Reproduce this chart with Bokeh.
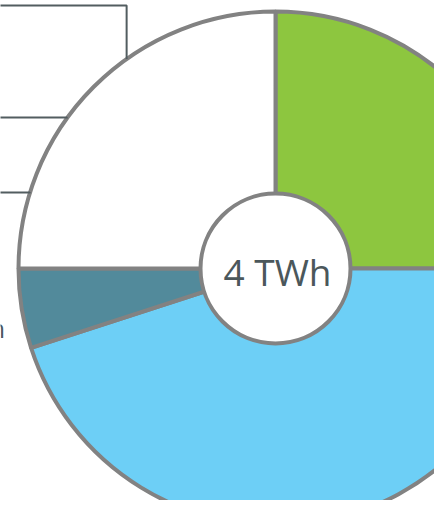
import math
from bokeh.plotting import figure
from bokeh.models import Range1d, ColumnDataSource
from bokeh.core.properties import value
from bokeh.embed import file_html
from bokeh.resources import INLINE

# ---- data ----
categories = ["Green", "Light blue", "Teal", "White"]
values_twh = [1.0, 1.8, 0.2, 1.0]
colors = ["#8dc63f", "#6dcff6", "#528a9b", "#ffffff"]
total_label = "4 TWh"
side_label = "0.2 TWh"

# leader lines of labels lying outside the visible crop (angle on rim, label row)
leader_angles = [125.4, 144.3, 163.0]
leader_rows = [495, 383, 308]  # data y of the horizontal runs

# ---- layout (1 data unit = 1 px) ----
W, H = 434, 500
cx, cy = 275, 232
R_out, R_in = 257, 75

p = figure(width=W, height=H, output_backend="svg", toolbar_location=None,
           x_range=Range1d(0, W), y_range=Range1d(0, H),
           min_border=0, outline_line_color=None)
p.axis.visible = False
p.grid.visible = False
p.background_fill_color = "white"
p.border_fill_color = "white"

total = sum(values_twh)
starts, ends = [], []
a = math.pi / 2
for v in values_twh:
    span = 2 * math.pi * v / total
    starts.append(a - span)
    ends.append(a)
    a -= span

src = ColumnDataSource(dict(cat=categories, val=values_twh, color=colors,
                            start=starts, end=ends))
p.wedge(x=cx, y=cy, radius=R_out, start_angle="start", end_angle="end",
        fill_color="color", line_color="#828282", line_width=4, source=src)

# leader lines
for ang, row in zip(leader_angles, leader_rows):
    t = math.radians(ang)
    ex, ey = cx + R_out * math.cos(t), cy + R_out * math.sin(t)
    p.line(x=[-20, ex, ex], y=[row, row, ey], line_color="#525d60", line_width=2)

# partially visible label of the teal slice (cut off by the crop, as in the reference)
p.text(x=[4.5], y=[173], text=[side_label], text_align="right",
       text_baseline="alphabetic", text_font=value("Open Sans"),
       text_font_size="25px", text_color="#4b575b")

p.circle(x=cx, y=cy, radius=R_in, fill_color="white", line_color="#828282",
         line_width=4)
p.text(x=[cx + 2], y=[cy - 3], text=[total_label], text_align="center",
       text_baseline="middle", text_font=value("Open Sans"),
       text_font_size="37px", text_color="#4b575b")

open("out.html", "w").write(file_html(p, INLINE))
